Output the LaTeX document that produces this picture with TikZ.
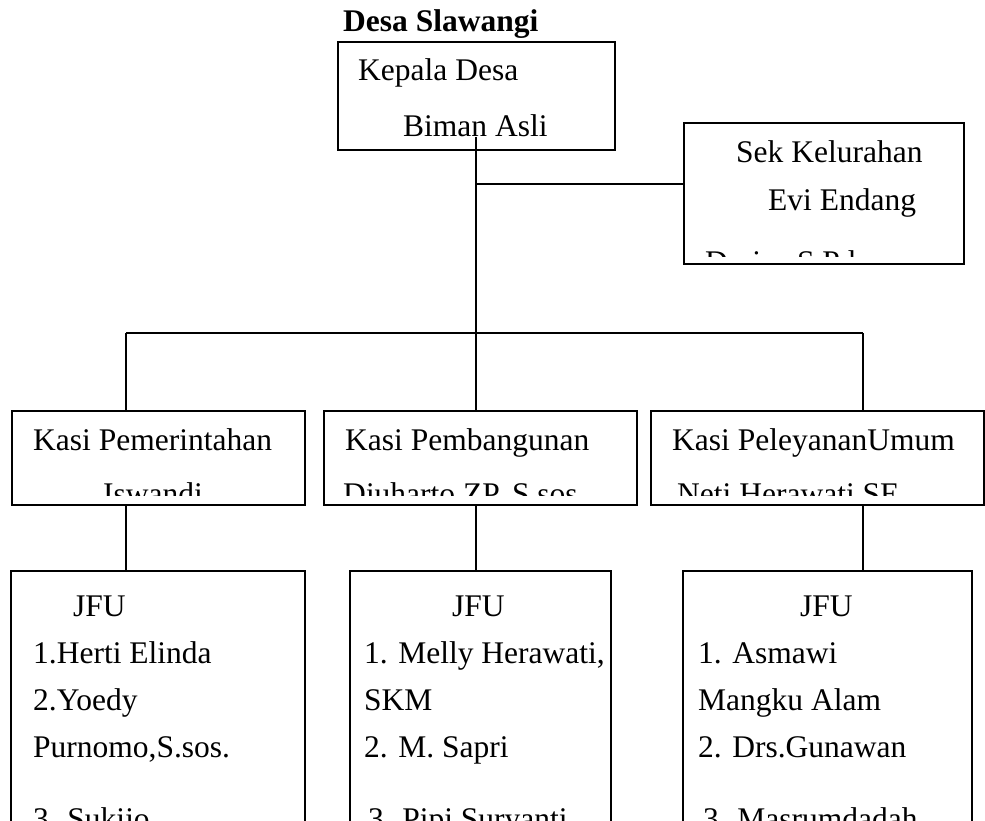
\documentclass[tikz,border=0pt]{standalone}
\usepackage{fontspec}
\setmainfont{Liberation Serif}
\begin{document}
\begin{tikzpicture}[x=1pt,y=-1pt,
  box/.style={draw, line width=1.6pt, anchor=north west, inner sep=0pt},
  lbl/.style={anchor=base west, inner sep=0pt, font=\fontsize{31.5}{47}\selectfont},
  conn/.style={line width=1.6pt}]
\clip (0,0) rectangle (985,821);
% boxes
\node[box, minimum width=277pt, minimum height=108pt] (kd) at (337,41) {};
\node[box, minimum width=280pt, minimum height=141pt] (sek) at (683,122) {};
\node[box, minimum width=293pt, minimum height=94pt] (k1) at (11,410) {};
\node[box, minimum width=313pt, minimum height=94pt] (k2) at (323,410) {};
\node[box, minimum width=333pt, minimum height=94pt] (k3) at (650,410) {};
\node[box, minimum width=294pt, minimum height=300pt] (j1) at (10,570) {};
\node[box, minimum width=261pt, minimum height=300pt] (j2) at (349,570) {};
\node[box, minimum width=289pt, minimum height=300pt] (j3) at (682,570) {};
% title and texts
\node[lbl] (title) at (343,32) {\bfseries Desa Slawangi};
\node[lbl] (kd1) at (358,81) {Kepala Desa};
\node[lbl] (kd2) at (403,137) {Biman Asli};
\node[lbl] (sek1) at (736,163) {Sek Kelurahan};
\node[lbl] (sek2) at (768,211) {Evi Endang};
\begin{scope}
\clip (683,122) rectangle (963,256);
\node[lbl] (sek3) at (705,272) {Darius S.Pd};
\end{scope}
\node[lbl] (k1a) at (33,450) {Kasi Pemerintahan};
\node[lbl] (k2a) at (345,450) {Kasi Pembangunan};
\node[lbl] (k3a) at (672,450) {Kasi PeleyananUmum};
\begin{scope}
\clip (11,410) rectangle (983,495);
\node[lbl] (k1b) at (103,504) {Iswandi};
\node[lbl] (k2b) at (343,504) {Djuharto ZP, S.sos};
\node[lbl] (k3b) at (677,504) {Neti Herawati,SE};
\end{scope}
% JFU 1
\node[lbl] (j1h) at (73,616) {JFU};
\node[lbl] (j1a) at (33,663) {1.Herti Elinda};
\node[lbl] (j1b) at (33,710) {2.Yoedy};
\node[lbl] (j1c) at (33,757) {Purnomo,S.sos.};
\node[lbl] (j1d) at (33,829) {3. Sukijo};
% JFU 2
\node[lbl] (j2h) at (452,616) {JFU};
\node[lbl] (j2a) at (364,663) {1. Melly Herawati,};
\node[lbl] (j2b) at (364,710) {SKM};
\node[lbl] (j2c) at (364,757) {2. M. Sapri};
\node[lbl] (j2d) at (368,829) {3. Pipi Suryanti};
% JFU 3
\node[lbl] (j3h) at (800,616) {JFU};
\node[lbl] (j3a) at (698,663) {1. Asmawi};
\node[lbl] (j3b) at (698,710) {Mangku Alam};
\node[lbl] (j3c) at (698,757) {2. Drs.Gunawan};
\node[lbl] (j3d) at (703,829) {3. Masrumdadah};
% connectors
\coordinate (kdin) at (476,137);
\coordinate (jn) at (476,184);
\coordinate (bl) at (126,333);
\coordinate (br) at (863,333);
\draw[conn] (kdin) -- (kdin |- k2.north);
\draw[conn] (jn) -- (jn -| sek.west);
\draw[conn] (bl) -- (br);
\draw[conn] (bl) -- (bl |- k1.north);
\draw[conn] (br) -- (br |- k3.north);
\draw[conn] (bl |- k1.south) -- (bl |- j1.north);
\draw[conn] (kdin |- k2.south) -- (kdin |- j2.north);
\draw[conn] (br |- k3.south) -- (br |- j3.north);
\end{tikzpicture}
\end{document}
